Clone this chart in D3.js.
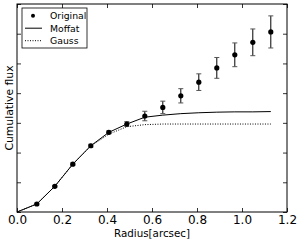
<!DOCTYPE html>
<html>
<head>
<meta charset="utf-8">
<script src="https://cdn.jsdelivr.net/npm/d3@7"></script>
<style>
body { margin: 0; background: #fff; }
text { font-family: "DejaVu Sans", sans-serif; }
</style>
</head>
<body>
<div id="chart"></div>
<script>
// measured cumulative flux
var radius = [0.088, 0.168, 0.248, 0.328, 0.408, 0.488, 0.568, 0.648, 0.728, 0.808, 0.888, 0.968, 1.048, 1.128];
var flux = [0.27, 0.865, 1.61, 2.23, 2.68, 2.96, 3.23, 3.52, 3.91, 4.37, 4.85, 5.29, 5.71, 6.06];
var fluxErr = [0.03, 0.03, 0.04, 0.05, 0.05, 0.08, 0.16, 0.21, 0.24, 0.28, 0.35, 0.40, 0.45, 0.54];

// fitted models, evaluated at 0 and the same radii
var modelRadius = [0, 0.088, 0.168, 0.248, 0.328, 0.408, 0.488, 0.568, 0.648, 0.728, 0.808, 0.888, 0.968, 1.048, 1.128];
var moffat = [0, 0.27, 0.865, 1.61, 2.23, 2.68, 2.96, 3.19, 3.26, 3.31, 3.34, 3.36, 3.37, 3.37, 3.38];
var gauss = [0, 0.27, 0.865, 1.61, 2.22, 2.62, 2.87, 2.94, 2.96, 2.96, 2.96, 2.96, 2.96, 2.96, 2.96];

var xTicks = [0, 0.2, 0.4, 0.6, 0.8, 1.0, 1.2];
var yTicks = [0, 1, 2, 3, 4, 5, 6, 7];
var legendLabels = ["Original", "Moffat", "Gauss"];

var W = 300, H = 241;
var margin = {top: 4, right: 13, bottom: 29, left: 17},
    width = W - margin.left - margin.right,
    height = H - margin.top - margin.bottom;

var svg = d3.select("#chart").append("svg")
    .attr("width", W)
    .attr("height", H);

var g = svg.append("g")
    .attr("transform", "translate(" + margin.left + "," + margin.top + ")");

var x = d3.scaleLinear().domain([0, 1.2]).range([0, width]);
var y = d3.scaleLinear().domain([0, 7]).range([height, 0]);

// model curves
var line = d3.line()
    .x(function(d) { return x(d[0]); })
    .y(function(d) { return y(d[1]); });

g.append("path")
    .datum(d3.zip(modelRadius, gauss))
    .attr("d", line)
    .attr("fill", "none")
    .attr("stroke", "#000")
    .attr("stroke-width", 1)
    .attr("stroke-dasharray", "1,1.5");

g.append("path")
    .datum(d3.zip(modelRadius, moffat))
    .attr("d", line)
    .attr("fill", "none")
    .attr("stroke", "#000")
    .attr("stroke-width", 1);

// error bars and points
var pts = d3.zip(radius, flux, fluxErr);

var eb = g.selectAll(".err").data(pts).enter().append("g").attr("class", "err");
eb.append("line")
    .attr("x1", function(d) { return x(d[0]); })
    .attr("x2", function(d) { return x(d[0]); })
    .attr("y1", function(d) { return y(d[1] - d[2]); })
    .attr("y2", function(d) { return y(d[1] + d[2]); })
    .attr("stroke", "#000");
[-1, 1].forEach(function(s) {
    eb.append("line")
        .attr("x1", function(d) { return x(d[0]) - 2.5; })
        .attr("x2", function(d) { return x(d[0]) + 2.5; })
        .attr("y1", function(d) { return y(d[1] + s * d[2]); })
        .attr("y2", function(d) { return y(d[1] + s * d[2]); })
        .attr("stroke", "#555");
});

g.selectAll(".pt").data(pts).enter().append("circle")
    .attr("cx", function(d) { return x(d[0]); })
    .attr("cy", function(d) { return y(d[1]); })
    .attr("r", 2.6)
    .attr("fill", "#000");

// axes, ticks inward on all sides
var axBottom = g.append("g").attr("transform", "translate(0," + height + ")")
    .call(d3.axisBottom(x).tickValues(xTicks).tickSizeInner(-4).tickSizeOuter(0)
        .tickPadding(3).tickFormat(d3.format(".1f")));
var axTop = g.append("g")
    .call(d3.axisTop(x).tickValues(xTicks).tickSizeInner(-4).tickSizeOuter(0).tickFormat(""));
var axLeft = g.append("g")
    .call(d3.axisLeft(y).tickValues(yTicks).tickSizeInner(-4).tickSizeOuter(0).tickFormat(""));
var axRight = g.append("g").attr("transform", "translate(" + width + ",0)")
    .call(d3.axisRight(y).tickValues(yTicks).tickSizeInner(-4).tickSizeOuter(0).tickFormat(""));

[axBottom, axTop, axLeft, axRight].forEach(function(a) {
    a.select(".domain").remove();
    a.selectAll("line").attr("stroke", "#000").attr("stroke-width", 0.8);
});
axBottom.selectAll("text").attr("font-size", 12).attr("fill", "#000")
    .attr("font-family", "DejaVu Sans");

g.append("rect")
    .attr("width", width)
    .attr("height", height)
    .attr("fill", "none")
    .attr("stroke", "#000")
    .attr("stroke-width", 1);

// axis titles
svg.append("text")
    .attr("x", margin.left + width / 2)
    .attr("y", 237)
    .attr("text-anchor", "middle")
    .attr("font-size", 10.3)
    .text("Radius[arcsec]");

svg.append("text")
    .attr("transform", "translate(13," + (margin.top + height / 2) + ") rotate(-90)")
    .attr("text-anchor", "middle")
    .attr("font-size", 10.8)
    .text("Cumulative flux");

// legend
var lg = svg.append("g").attr("transform", "translate(22,8)");
lg.append("rect")
    .attr("width", 65)
    .attr("height", 40)
    .attr("fill", "#fff")
    .attr("stroke", "#000")
    .attr("stroke-width", 0.8);

var rows = lg.selectAll(".row").data(legendLabels).enter().append("g")
    .attr("transform", function(d, i) { return "translate(0," + (7.7 + i * 12.5) + ")"; });
rows.append("text")
    .attr("x", 28)
    .attr("y", 3.3)
    .attr("font-size", 9.3)
    .text(function(d) { return d; });
rows.filter(function(d, i) { return i === 0; }).append("circle")
    .attr("cx", 11).attr("cy", 0).attr("r", 2).attr("fill", "#000");
rows.filter(function(d, i) { return i === 1; }).append("line")
    .attr("x1", 3).attr("x2", 20).attr("stroke", "#000");
rows.filter(function(d, i) { return i === 2; }).append("line")
    .attr("x1", 3).attr("x2", 20).attr("stroke", "#000")
    .attr("stroke-dasharray", "1,1.5");
</script>
</body>
</html>
